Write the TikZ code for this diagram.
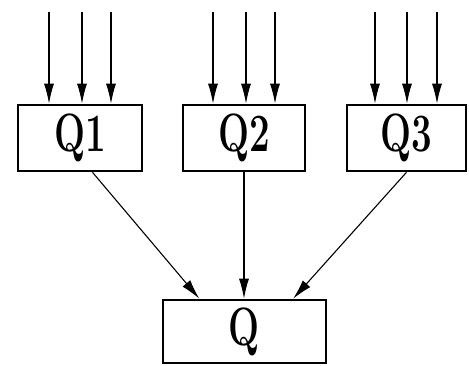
\documentclass[tikz,border=0pt]{standalone}
\usepackage{graphicx}
\usetikzlibrary{arrows.meta, positioning, calc}

\newcommand{\qtext}[1]{\scalebox{0.68}[1]{\fontsize{54}{60}\selectfont\bfseries #1}}

\begin{document}
\begin{tikzpicture}[x=1pt, y=1pt, line width=1.1pt,
    qbox/.style={draw, line width=2.6pt, inner sep=0pt, minimum height=66pt},
    feed/.style={-{Latex[length=20pt, width=10pt]}}]
        \useasboundingbox (0, 0) rectangle (469, 365);

        % Boxes
        \node[qbox, minimum width=124pt] (q1) at (80, 227) {\qtext{Q1}};
        \node[qbox, minimum width=122pt] (q2) at (244, 227) {\qtext{Q2}};
        \node[qbox, minimum width=119pt] (q3) at (406.5, 227) {\qtext{Q3}};
        \node[qbox, minimum width=163pt, minimum height=63pt] (q) at (244.5, 33.5) {\qtext{Q}};

        % Inputs
        \foreach \b/\xa/\xb/\xc in {q1/49/82/111, q2/213/246/275, q3/375/407/437} {
            \foreach \xx [count=\i] in {\xa, \xb, \xc} {
                \coordinate (\b in\i) at (\xx, 353);
                \draw[feed] (\b in\i) -- (\b in\i |- \b.north);
            }
        }

        % Outputs
        \draw[feed] (q1.-70) -- (q.144);
        \draw[feed] (q2.south) -- (q2.south |- q.north);
        \draw[feed] (q3.south) -- (q.34.5);
    \end{tikzpicture}
\end{document}
